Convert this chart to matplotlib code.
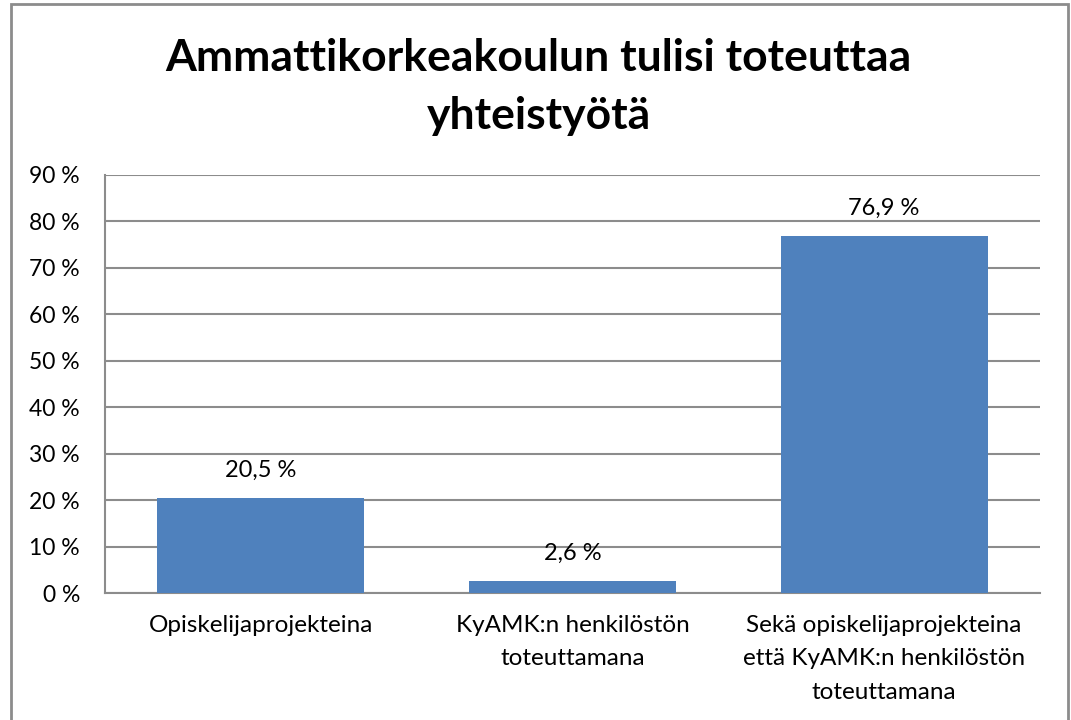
import matplotlib
matplotlib.use("Agg")
import matplotlib.pyplot as plt
from matplotlib.patches import Rectangle

categories = ["Opiskelijaprojekteina",
              "KyAMK:n henkilöstön\ntoteuttamana",
              "Sekä opiskelijaprojekteina\nettä KyAMK:n henkilöstön\ntoteuttamana"]
values = [20.5, 2.6, 76.9]
value_labels = ["20,5 %", "2,6 %", "76,9 %"]
yticks = [0, 10, 20, 30, 40, 50, 60, 70, 80, 90]
ytick_labels = [f"{t} %" for t in yticks]
title = "Ammattikorkeakoulun tulisi toteuttaa\nyhteistyötä"

plt.rcParams['font.family'] = ['Lato', 'DejaVu Sans']

W, H = 1071, 720
fig = plt.figure(figsize=(W / 100, H / 100), dpi=100)
fig.patch.set_facecolor("white")

# outer chart border
fig.add_artist(Rectangle((11 / W, -0.05), (1068 - 11) / W, 1.05 - 4 / H,
                         transform=fig.transFigure, fill=False,
                         edgecolor="#8c8c8c", linewidth=2.0))

ax = fig.add_axes([105 / W, 1 - 593 / H, (1040 - 105) / W, (593 - 175) / H])
x = list(range(len(categories)))
ax.bar(x, values, width=0.665, color="#4f81bd", zorder=3)
ax.set_xlim(-0.5, 2.5)
ax.set_ylim(0, 90)
ax.set_yticks(yticks)
ax.set_yticklabels(ytick_labels, fontsize=16.5)
ax.set_xticks(x)
ax.set_xticklabels(categories, fontsize=17.5, linespacing=1.72, va="top")
ax.tick_params(axis="y", length=0, pad=18)
ax.tick_params(axis="x", length=0, pad=16)
ax.grid(axis="y", color="#8c8c8c", linewidth=1.5, zorder=0)
for s in ["top", "right"]:
    ax.spines[s].set_visible(False)
for s in ["left", "bottom"]:
    ax.spines[s].set_color("#8c8c8c")
    ax.spines[s].set_linewidth(1.5)

for xi, v, lab in zip(x, values, value_labels):
    ax.annotate(lab, (xi, v), xytext=(0, 12), textcoords="offset points",
                ha="center", va="bottom", fontsize=17)

fig.text(0.503, 1 - 87 / H, title, ha="center", va="center", fontsize=32,
         fontweight="bold", linespacing=1.55)

fig.savefig("out.png", dpi=100, facecolor="white")
